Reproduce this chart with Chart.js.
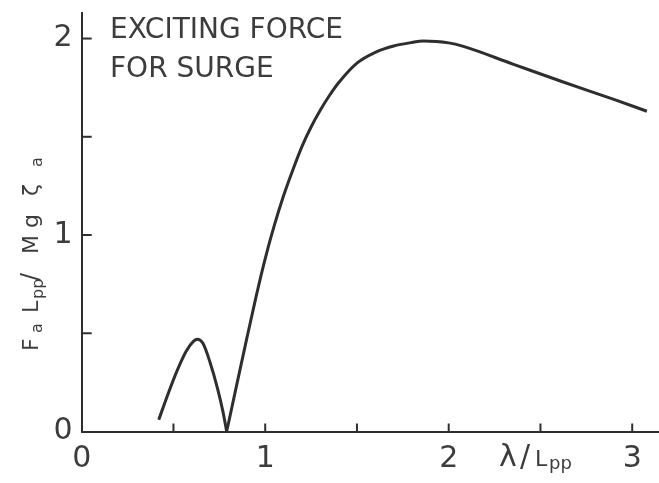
<!DOCTYPE html>
<html>
<head>
<meta charset="utf-8">
<script src="https://cdn.jsdelivr.net/npm/chart.js@4.4.0/dist/chart.umd.min.js"></script>
<style>
  html, body { margin: 0; padding: 0; background: #fff; }
  #wrap { width: 659px; height: 483px; }
</style>
</head>
<body>
<div id="wrap"><canvas id="surgeChart"></canvas></div>
<script>
// surge exciting force vs wave length ratio
var humpX = [0.42, 0.47, 0.52, 0.57, 0.61, 0.63, 0.66, 0.70, 0.74, 0.77, 0.79];
var humpY = [0.06, 0.19, 0.31, 0.41, 0.46, 0.47, 0.45, 0.35, 0.22, 0.10, 0.0];

var mainX = [0.79, 0.85, 0.90, 0.95, 1.00, 1.05, 1.10, 1.15, 1.20, 1.25, 1.30, 1.35, 1.40, 1.50, 1.60, 1.70, 1.80, 1.86, 2.00, 2.08, 2.35, 2.62, 2.90, 3.08];
var mainY = [0.0, 0.26, 0.475, 0.685, 0.88, 1.05, 1.20, 1.33, 1.45, 1.55, 1.635, 1.71, 1.775, 1.875, 1.93, 1.962, 1.98, 1.987, 1.978, 1.96, 1.87, 1.78, 1.69, 1.63];

var xLabelled = [0, 1, 2, 3];
var yLabelled = [0, 1, 2];

var ink = "#2e2e2e";
var textInk = "#3c3c3c";

function toPoints(xs, ys) {
  return xs.map(function (x, i) { return { x: x, y: ys[i] }; });
}

// short tick marks pointing into the plot, plus the hand-lettered titles
var lettering = {
  id: "lettering",
  afterDraw: function (chart) {
    var ctx = chart.ctx;
    var xs = chart.scales.x;
    var ys = chart.scales.y;
    var area = chart.chartArea;
    ctx.save();
    ctx.strokeStyle = ink;
    ctx.lineWidth = 2;
    xs.ticks.forEach(function (t) {
      if (t.value === 0) return;
      var px = xs.getPixelForValue(t.value);
      ctx.beginPath();
      ctx.moveTo(px, area.bottom);
      ctx.lineTo(px, area.bottom - 8);
      ctx.stroke();
    });
    ys.ticks.forEach(function (t) {
      if (t.value === 0) return;
      var py = ys.getPixelForValue(t.value);
      ctx.beginPath();
      ctx.moveTo(area.left, py);
      ctx.lineTo(area.left + 10, py);
      ctx.stroke();
    });

    ctx.fillStyle = textInk;
    ctx.textBaseline = "alphabetic";
    ctx.textAlign = "left";

    // note in the upper left
    ctx.font = "28px 'DejaVu Sans'";
    ctx.fillText("EXCITING FORCE", 110, 38);
    ctx.fillText("FOR SURGE", 110, 77);

    // x title, sits between the 2 and 3 labels
    ctx.font = "30px 'DejaVu Sans'";
    ctx.fillText("\u03bb", 499, 466);
    ctx.fillText("/", 520, 466);
    ctx.font = "22px 'DejaVu Sans'";
    ctx.fillText("L", 535, 466);
    ctx.font = "18px 'DejaVu Sans'";
    ctx.fillText("pp", 549, 469);

    // y title, rotated
    ctx.translate(38, 351);
    ctx.rotate(-Math.PI / 2);
    var parts = [
      ["F", 0, 0, 22], ["a", 18, 4, 16],
      ["L", 38, 0, 22], ["pp", 52, 5, 16],
      ["/", 70, 0, 24],
      ["M", 97, 0, 22], ["g", 123, 0, 22],
      ["\u03b6", 155, 0, 22], ["a", 184, 4, 16]
    ];
    parts.forEach(function (p) {
      ctx.font = p[3] + "px 'DejaVu Sans'";
      ctx.fillText(p[0], p[1], p[2]);
    });
    ctx.restore();
  }
};

var ctx = document.getElementById("surgeChart");
var surgeChart = new Chart(ctx, {
  type: "line",
  data: {
    datasets: [
      {
        data: toPoints(humpX, humpY),
        borderColor: ink,
        borderWidth: 3,
        pointRadius: 0,
        cubicInterpolationMode: "monotone",
      },
      {
        data: toPoints(mainX, mainY),
        borderColor: ink,
        borderWidth: 3,
        pointRadius: 0,
        cubicInterpolationMode: "monotone",
      },
    ],
  },
  options: {
    responsive: true,
    maintainAspectRatio: false,
    animation: false,
    layout: {
      padding: { top: 13, right: 0, left: 0, bottom: 0 },
    },
    plugins: {
      legend: { display: false },
      tooltip: { enabled: false },
    },
    scales: {
      x: {
        type: "linear",
        min: 0,
        max: 3.146,
        grid: { display: false, drawTicks: false },
        border: { display: true, color: ink, width: 2 },
        ticks: {
          stepSize: 0.5,
          includeBounds: false,
          maxRotation: 0,
          autoSkip: false,
          padding: 10,
          color: textInk,
          font: { family: "DejaVu Sans", size: 30 },
          callback: function (v) {
            return xLabelled.indexOf(v) >= 0 ? String(v) : "";
          },
        },
        afterFit: function (scale) {
          scale.height = 51.5;
          scale.paddingLeft = 0;
          scale.paddingRight = 0;
        },
      },
      y: {
        min: 0,
        max: 2.13,
        grid: { display: false, drawTicks: false },
        border: { display: true, color: ink, width: 2 },
        ticks: {
          stepSize: 0.5,
          includeBounds: false,
          autoSkip: false,
          padding: 9,
          color: textInk,
          font: { family: "DejaVu Sans", size: 30 },
          callback: function (v) {
            return yLabelled.indexOf(v) >= 0 ? String(v) : "";
          },
        },
        afterFit: function (scale) {
          scale.width = 81.7;
          scale.paddingTop = 0;
          scale.paddingBottom = 0;
        },
      },
    },
  },
  plugins: [lettering],
});
</script>
</body>
</html>
